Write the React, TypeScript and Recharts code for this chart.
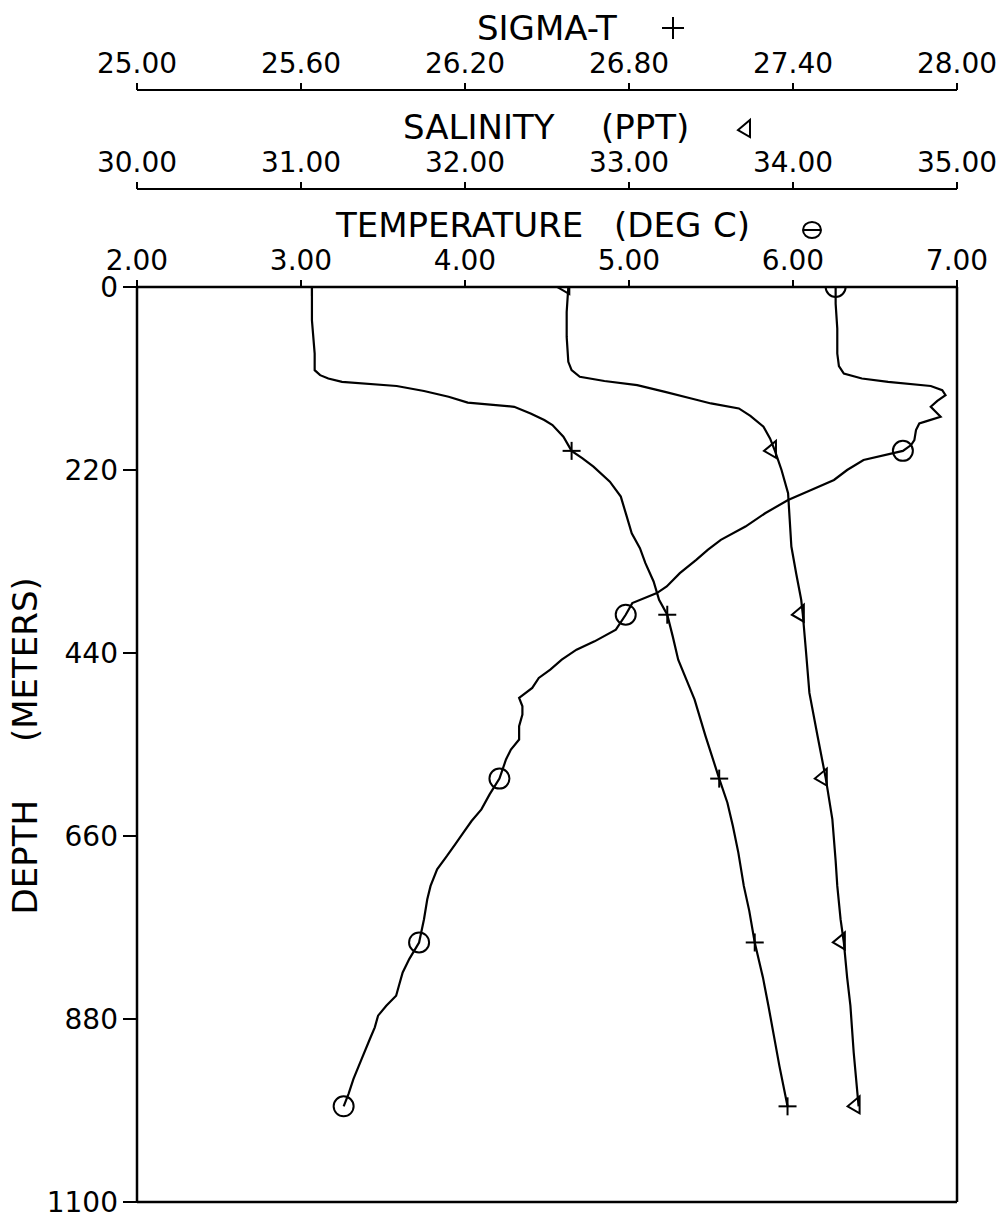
import { ScatterChart, Scatter, XAxis, YAxis, ReferenceLine } from 'recharts';

// axis ticks
const depthTicks = [0, 220, 440, 660, 880, 1100];
const tempTicks = [2, 3, 4, 5, 6, 7];
const salTicks = [30, 31, 32, 33, 34, 35];
const sigmaTicks = [25, 25.6, 26.2, 26.8, 27.4, 28];

// depths where the plotter dropped a symbol
const markerDepths = [0, 197, 394, 591, 788, 985];

// temperature (deg C) profile
const tempDepth = [
  0, 20, 50, 80, 95, 104, 110, 114, 119, 124, 130, 137, 144, 150, 156, 161, 164, 172, 184, 190,
  197, 208, 220, 232, 245, 256, 272, 288, 304, 316, 328, 344, 360, 368, 380, 394, 412, 426, 436,
  448, 460, 470, 482, 494, 504, 514, 528, 544, 556, 568, 591, 610, 628, 642, 656, 670, 684, 700,
  720, 736, 760, 788, 808, 824, 838, 852, 864, 876, 890, 904, 928, 952, 970, 985,
];
const tempValue = [
  6.26, 6.26, 6.27, 6.27, 6.28, 6.31, 6.42, 6.58, 6.84, 6.91, 6.93, 6.88, 6.84, 6.87, 6.9, 6.82,
  6.77, 6.75, 6.74, 6.72, 6.67, 6.43, 6.33, 6.25, 6.1, 5.97, 5.83, 5.71, 5.56, 5.48, 5.41, 5.31,
  5.23, 5.17, 5.02, 4.98, 4.92, 4.79, 4.68, 4.59, 4.52, 4.45, 4.41, 4.33, 4.35, 4.35, 4.33, 4.33,
  4.28, 4.25, 4.21, 4.15, 4.1, 4.04, 3.99, 3.94, 3.89, 3.83, 3.79, 3.77, 3.75, 3.72, 3.66, 3.62,
  3.6, 3.58, 3.52, 3.47, 3.45, 3.42, 3.37, 3.32, 3.29, 3.26,
];

// salinity (ppt) profile
const salDepth = [
  0, 30, 60, 90, 100, 108, 113, 118, 126, 134, 140, 146, 155, 168, 182, 197, 220, 248, 280, 312,
  345, 376, 394, 440, 488, 540, 591, 640, 690, 720, 760, 788, 830, 864, 920, 985,
];
const salValue = [
  32.63, 32.62, 32.62, 32.63, 32.65, 32.7, 32.85, 33.05, 33.22, 33.38, 33.5, 33.67, 33.74, 33.82,
  33.86, 33.89, 33.93, 33.97, 33.98, 33.99, 34.02, 34.05, 34.06, 34.08, 34.1, 34.15, 34.2, 34.24,
  34.26, 34.27, 34.29, 34.31, 34.33, 34.35, 34.37, 34.4,
];

// sigma-t profile
const sigmaDepth = [
  0, 40, 80, 100, 106, 110, 114, 119, 125, 132, 139, 144, 152, 160, 166, 180, 197, 206, 216, 234,
  252, 274, 296, 314, 332, 354, 376, 394, 420, 448, 472, 496, 540, 591, 620, 648, 680, 720, 750,
  788, 830, 864, 900, 936, 985,
];
const sigmaValue = [
  25.64, 25.64, 25.65, 25.65, 25.67, 25.7, 25.75, 25.95, 26.05, 26.14, 26.21, 26.38, 26.44, 26.49,
  26.52, 26.56, 26.59, 26.63, 26.67, 26.73, 26.77, 26.79, 26.81, 26.84, 26.86, 26.89, 26.91, 26.94,
  26.96, 26.98, 27.01, 27.04, 27.08, 27.13, 27.16, 27.18, 27.2, 27.22, 27.24, 27.26, 27.29, 27.31,
  27.33, 27.35, 27.38,
];

const toPoints = (depths: number[], values: number[]) =>
  depths.map((d, i) => ({ d, v: values[i], m: markerDepths.includes(d) }));

const FONT = '"DejaVu Sans", sans-serif';
const INK = '#000';

const PlusMark = ({ cx, cy, r = 9 }: any) => (
  <g stroke={INK} strokeWidth={2}>
    <line x1={cx - r} y1={cy} x2={cx + r} y2={cy} />
    <line x1={cx} y1={cy - r} x2={cx} y2={cy + r} />
  </g>
);
const TriMark = ({ cx, cy }: any) => (
  <polygon
    points={`${cx + 1},${cy - 10} ${cx + 1},${cy + 7} ${cx - 11},${cy}`}
    fill="none"
    stroke={INK}
    strokeWidth={2}
  />
);
const CircleMark = ({ cx, cy, r = 10 }: any) => (
  <circle cx={cx} cy={cy} r={r} fill="none" stroke={INK} strokeWidth={2} />
);

const onlyMarked = (Mark: any) => (p: any) =>
  p.payload && p.payload.m ? <Mark cx={p.cx} cy={p.cy} /> : <g />;

const TopTick = (props: any) => {
  const { x, y, payload } = props;
  return (
    <text x={x} y={y} textAnchor="middle" fontFamily={FONT} fontSize={28} fill={INK}>
      {Number(payload.value).toFixed(2)}
    </text>
  );
};

const DepthTick = (props: any) => {
  const { x, y, payload } = props;
  return (
    <text x={x} y={y} dy="0.36em" textAnchor="end" fontFamily={FONT} fontSize={28} fill={INK}>
      {payload.value}
    </text>
  );
};

const box = (p: any, fallback: any) => (p && p.viewBox ? p.viewBox : fallback);

const SigmaTitle = (p: any) => {
  const vb = box(p, { x: 137, y: 0, width: 820, height: 90 });
  const line = vb.y + vb.height;
  return (
    <g>
      <text x={vb.x + 340} y={line - 50} fontFamily={FONT} fontSize={34} fill={INK}>
        SIGMA-T
      </text>
      <PlusMark cx={vb.x + 536} cy={line - 62} r={11} />
    </g>
  );
};

const SalinityTitle = (p: any) => {
  const vb = box(p, { x: 137, y: 90, width: 820, height: 99 });
  const line = vb.y + vb.height;
  return (
    <g>
      <text x={vb.x + 266} y={line - 50} fontFamily={FONT} fontSize={34} fill={INK}>
        SALINITY
        <tspan x={vb.x + 464}>(PPT)</tspan>
      </text>
      <TriMark cx={vb.x + 612} cy={line - 59} />
    </g>
  );
};

const TempTitle = (p: any) => {
  const vb = box(p, { x: 137, y: 189, width: 820, height: 98 });
  const line = vb.y + vb.height;
  return (
    <g>
      <text x={vb.x + 199} y={line - 50} fontFamily={FONT} fontSize={34} fill={INK}>
        TEMPERATURE
        <tspan x={vb.x + 477}>(DEG</tspan>
        <tspan x={vb.x + 576}>C)</tspan>
      </text>
      <ellipse cx={vb.x + 675} cy={line - 57} rx={9} ry={8} fill="none" stroke={INK} strokeWidth={2} />
      <line x1={vb.x + 666} y1={line - 57} x2={vb.x + 684} y2={line - 57} stroke={INK} strokeWidth={2} />
    </g>
  );
};

const DepthTitle = (p: any) => {
  const vb = box(p, { x: 0, y: 287, width: 137, height: 915 });
  const bx = vb.x + 37;
  const by = vb.y + vb.height / 2 + 170;
  return (
    <text
      x={bx}
      y={by}
      transform={`rotate(-90, ${bx}, ${by})`}
      fontFamily={FONT}
      fontSize={34}
      fill={INK}
    >
      DEPTH
      <tspan dx={58}>(METERS)</tspan>
    </text>
  );
};

const lineStyle = { stroke: INK, strokeWidth: 2.2 };

const App = () => {
  const tempData = toPoints(tempDepth, tempValue);
  const salData = toPoints(salDepth, salValue);
  const sigmaData = toPoints(sigmaDepth, sigmaValue);

  // top axes stack outward in id order: a (temperature) sits on the frame
  return (
    <div style={{ position: 'absolute', left: 0, top: 0, background: '#fff' }}>
      <ScatterChart width={1006} height={1218} margin={{ top: 0, right: 49, bottom: 16, left: 0 }}>
        <XAxis
          xAxisId="a_temp"
          orientation="top"
          type="number"
          dataKey="v"
          domain={[2, 7]}
          ticks={tempTicks}
          interval={0}
          allowDataOverflow
          height={98}
          tickSize={7}
          tickMargin={10}
          tick={TopTick}
          axisLine={{ stroke: INK, strokeWidth: 2.5 }}
          tickLine={{ stroke: INK, strokeWidth: 2 }}
          label={TempTitle}
        />
        <XAxis
          xAxisId="b_sal"
          orientation="top"
          type="number"
          dataKey="v"
          domain={[30, 35]}
          ticks={salTicks}
          interval={0}
          allowDataOverflow
          height={99}
          tickSize={7}
          tickMargin={10}
          tick={TopTick}
          axisLine={{ stroke: INK, strokeWidth: 2 }}
          tickLine={{ stroke: INK, strokeWidth: 2 }}
          label={SalinityTitle}
        />
        <XAxis
          xAxisId="c_sigma"
          orientation="top"
          type="number"
          dataKey="v"
          domain={[25, 28]}
          ticks={sigmaTicks}
          interval={0}
          allowDataOverflow
          height={90}
          tickSize={7}
          tickMargin={10}
          tick={TopTick}
          axisLine={{ stroke: INK, strokeWidth: 2 }}
          tickLine={{ stroke: INK, strokeWidth: 2 }}
          label={SigmaTitle}
        />
        <YAxis
          type="number"
          dataKey="d"
          reversed
          domain={[0, 1100]}
          ticks={depthTicks}
          interval={0}
          allowDataOverflow
          width={137}
          tickSize={14}
          tickMargin={5}
          tick={DepthTick}
          axisLine={{ stroke: INK, strokeWidth: 2.5 }}
          tickLine={{ stroke: INK, strokeWidth: 2 }}
          label={DepthTitle}
        />
        <ReferenceLine xAxisId="a_temp" x={7} stroke={INK} strokeWidth={2.5} />
        <ReferenceLine xAxisId="a_temp" y={1100} stroke={INK} strokeWidth={2.5} />
        <Scatter
          xAxisId="c_sigma"
          data={sigmaData}
          line={lineStyle}
          lineType="joint"
          shape={onlyMarked(PlusMark)}
          isAnimationActive={false}
        />
        <Scatter
          xAxisId="b_sal"
          data={salData}
          line={lineStyle}
          lineType="joint"
          shape={onlyMarked(TriMark)}
          isAnimationActive={false}
        />
        <Scatter
          xAxisId="a_temp"
          data={tempData}
          line={lineStyle}
          lineType="joint"
          shape={onlyMarked(CircleMark)}
          isAnimationActive={false}
        />
      </ScatterChart>
    </div>
  );
};

export default App;
